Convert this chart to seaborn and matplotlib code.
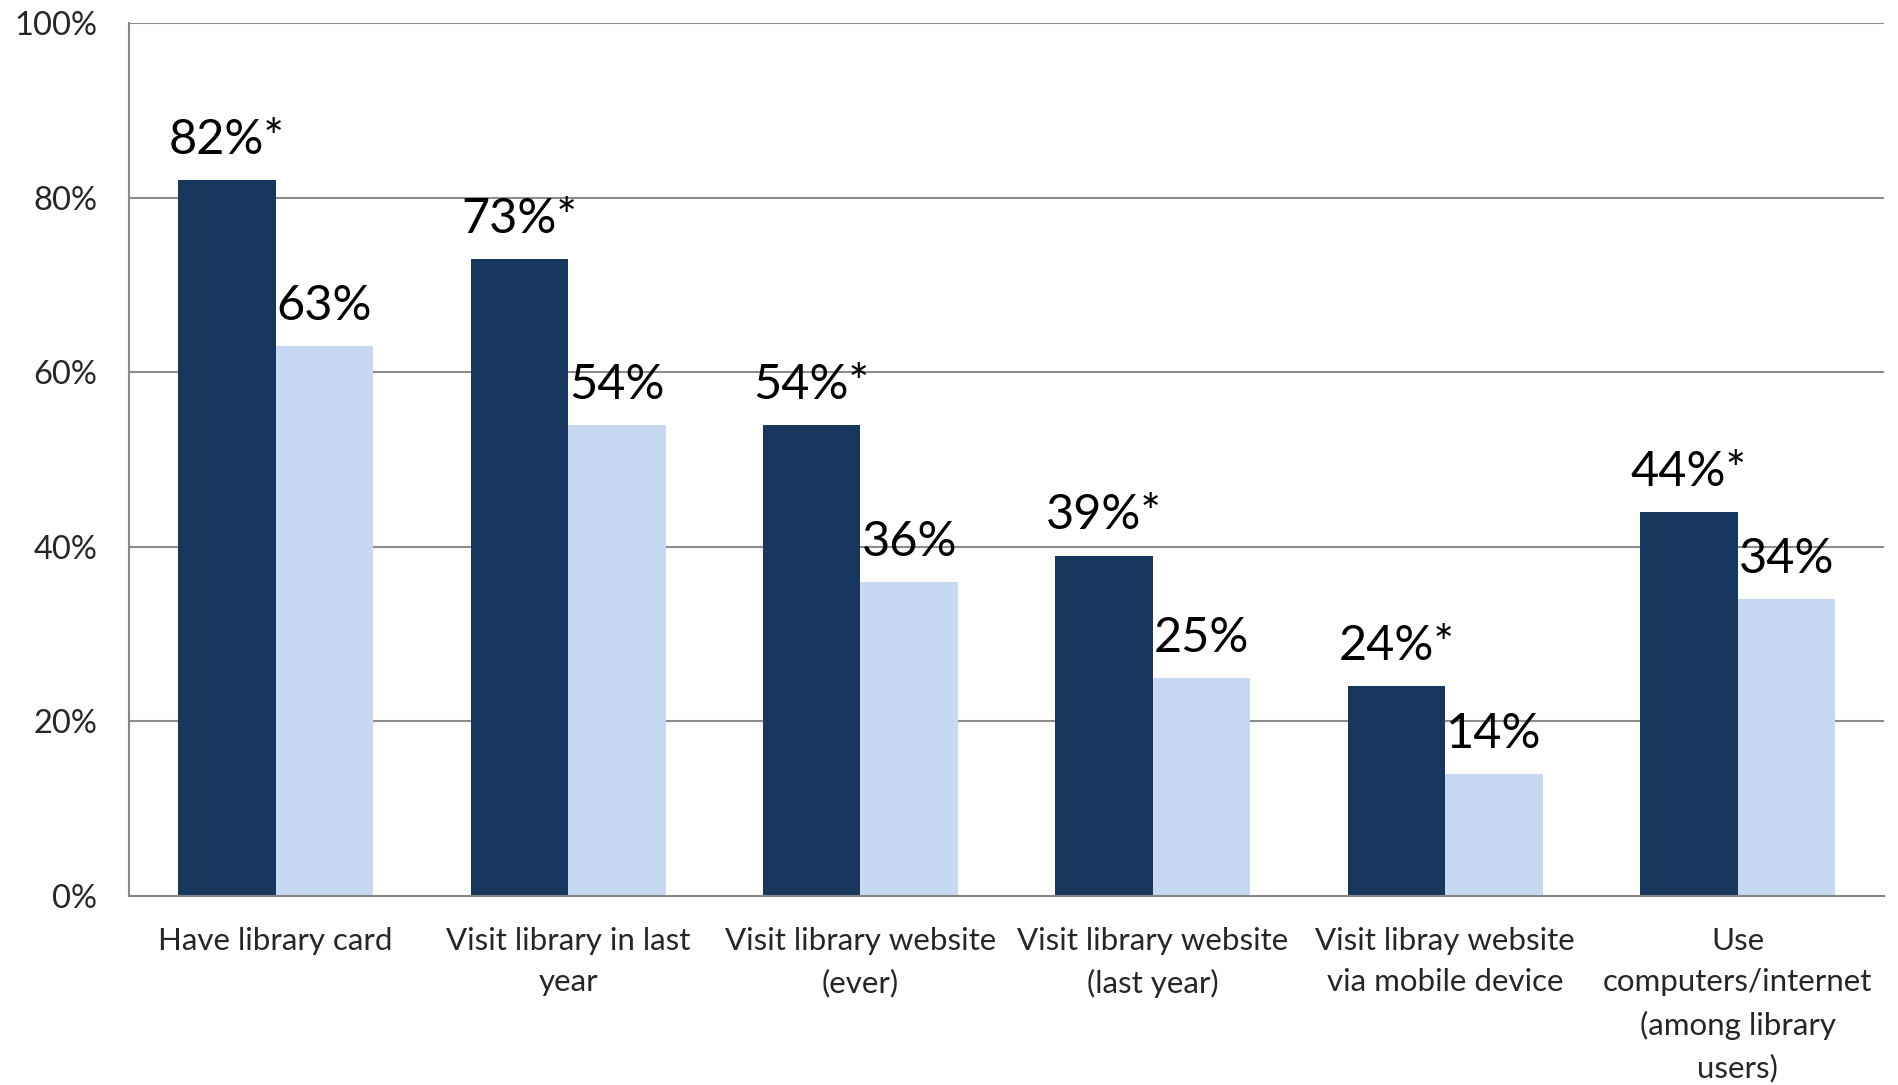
import matplotlib
matplotlib.use("Agg")
import matplotlib.pyplot as plt
import seaborn as sns
import pandas as pd
import numpy as np

categories = [
    "Have library card",
    "Visit library in last\nyear",
    "Visit library website\n(ever)",
    "Visit library website\n(last year)",
    "Visit libray website\nvia mobile device",
    "Use\ncomputers/internet\n(among library\nusers)",
]
series_names = ["Group A", "Group B"]
group_a = [82, 73, 54, 39, 24, 44]
group_b = [63, 54, 36, 25, 14, 34]
label_a = ["82%*", "73%*", "54%*", "39%*", "24%*", "44%*"]
label_b = ["63%", "54%", "36%", "25%", "14%", "34%"]
y_ticks = [0, 20, 40, 60, 80, 100]
y_tick_labels = ["0%", "20%", "40%", "60%", "80%", "100%"]

sns.set_theme(style="white")
plt.rcParams["font.family"] = ["Lato", "DejaVu Sans"]

df = pd.DataFrame({
    "category": categories * 2,
    "series": [series_names[0]] * len(categories) + [series_names[1]] * len(categories),
    "value": group_a + group_b,
})

fig = plt.figure(figsize=(18.98, 10.85), dpi=100)
ax = fig.add_axes([0.0682, 0.1742, 0.9244, 0.8046])

palette = {series_names[0]: "#17375E", series_names[1]: "#C6D9F1"}
sns.barplot(data=df, x="category", y="value", hue="series", order=categories,
            hue_order=series_names, palette=palette, width=0.667, gap=0,
            saturation=1, edgecolor="none", linewidth=0, legend=False, ax=ax,
            zorder=3)

ax.bar_label(ax.containers[0], labels=label_a, padding=13, fontsize=35, color="black")
ax.bar_label(ax.containers[1], labels=label_b, padding=13, fontsize=35, color="black")

ax.set_ylim(0, 100)
ax.set_xlim(-0.5, len(categories) - 0.5)
ax.set_yticks(y_ticks)
ax.set_yticklabels(y_tick_labels, fontsize=23.5)
ax.set_xticks(range(len(categories)))
ax.set_xticklabels(categories, fontsize=22.5, linespacing=1.6, va="top")
ax.set_xticks(np.arange(-0.5, len(categories), 1.0), minor=True)
ax.tick_params(axis="x", which="major", length=0, pad=22)
ax.tick_params(axis="x", which="minor", length=11, width=1.5, color="#888888", direction="out")
ax.tick_params(axis="y", which="major", length=11, width=1.5, color="#888888", direction="out", pad=12)
ax.set_xlabel("")
ax.set_ylabel("")

ax.yaxis.grid(True, color="#8C8C8C", linewidth=1.5, zorder=0)
ax.xaxis.grid(False)
for side in ["top", "right"]:
    ax.spines[side].set_visible(False)
for side in ["left", "bottom"]:
    ax.spines[side].set_color("#888888")
    ax.spines[side].set_linewidth(1.5)
    ax.spines[side].set_zorder(4)

fig.savefig("out.png", dpi=100, facecolor="white")
